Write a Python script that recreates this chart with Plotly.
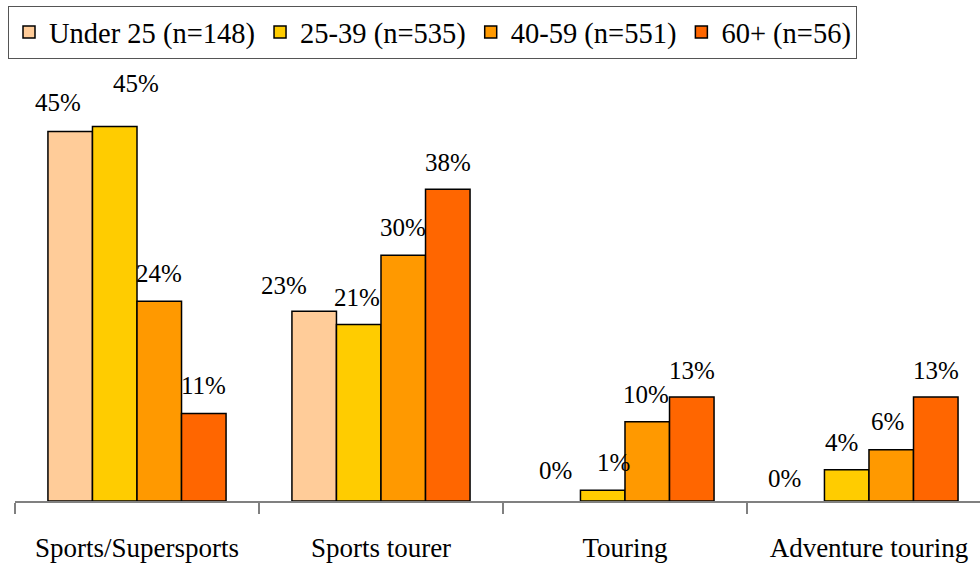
import plotly.graph_objects as go

# Share of riders owning each motorcycle type, by age group (%)
categories = ["Sports/Supersports", "Sports tourer", "Touring", "Adventure touring"]
age_groups = ["Under 25 (n=148)", "25-39 (n=535)", "40-59 (n=551)", "60+ (n=56)"]
under_25 = [44.8, 23.0, 0.0, 0.0]
age_25_39 = [45.4, 21.4, 1.3, 3.8]
age_40_59 = [24.2, 29.8, 9.6, 6.2]
age_60_plus = [10.6, 37.8, 12.6, 12.6]
series = [under_25, age_25_39, age_40_59, age_60_plus]

colors = ["#FFCC99", "#FFCC00", "#FF9900", "#FF6600"]
FONT = "Liberation Serif"

# label nudges in pixels (dx, dy above bar top), per series and category
label_dx = [[-12, -30, -3, -18], [21, -2, 11, -5], [0, 0, -1, -4], [0, 0, 0, 0]]
label_dy = [[29, 26, 31, 23], [43, 27, 28, 27], [28, 28, 27, 28], [28, 27, 27, 27]]

fig = go.Figure()
for name, vals, col in zip(age_groups, series, colors):
    fig.add_trace(go.Bar(
        x=categories, y=vals, name=name,
        marker=dict(color=col,
                    line=dict(color="black", width=[1.5 if v > 0 else 0 for v in vals])),
    ))

PX_PER_CAT = 965 / 3.955
bar_w = PX_PER_CAT * 0.73 / 4
for i, vals in enumerate(series):
    for j, v in enumerate(vals):
        fig.add_annotation(
            x=categories[j], y=v, text=f"{int(v + 0.5)}%", showarrow=False,
            xshift=(i - 1.5) * bar_w + label_dx[i][j], yshift=label_dy[i][j],
            yanchor="middle", font=dict(family=FONT, size=25, color="black"),
        )

fig.update_layout(
    width=980, height=565,
    margin=dict(l=15, r=0, t=70, b=64),
    paper_bgcolor="white", plot_bgcolor="white",
    barmode="group", bargap=0.27, bargroupgap=0,
    font=dict(family=FONT, color="black"),
    showlegend=True,
    legend=dict(
        orientation="h", xref="container", yref="container",
        x=8 / 980, y=1 - 6 / 565, xanchor="left", yanchor="top",
        bordercolor="#555555", borderwidth=1, bgcolor="white",
        font=dict(family=FONT, size=28.5, color="black"),
    ),
    xaxis=dict(
        type="category", range=[-0.5, 3.455],
        showline=True, linecolor="#808080", linewidth=1.5,
        ticks="outside", tickson="boundaries", ticklen=11, tickcolor="#808080", tickwidth=1.5,
        tickfont=dict(family=FONT, size=27, color="black"),
        ticklabelstandoff=22, showgrid=False,
    ),
    yaxis=dict(visible=False, range=[0, 431 / 8.25], fixedrange=True),
)

fig.write_html("out.html")
